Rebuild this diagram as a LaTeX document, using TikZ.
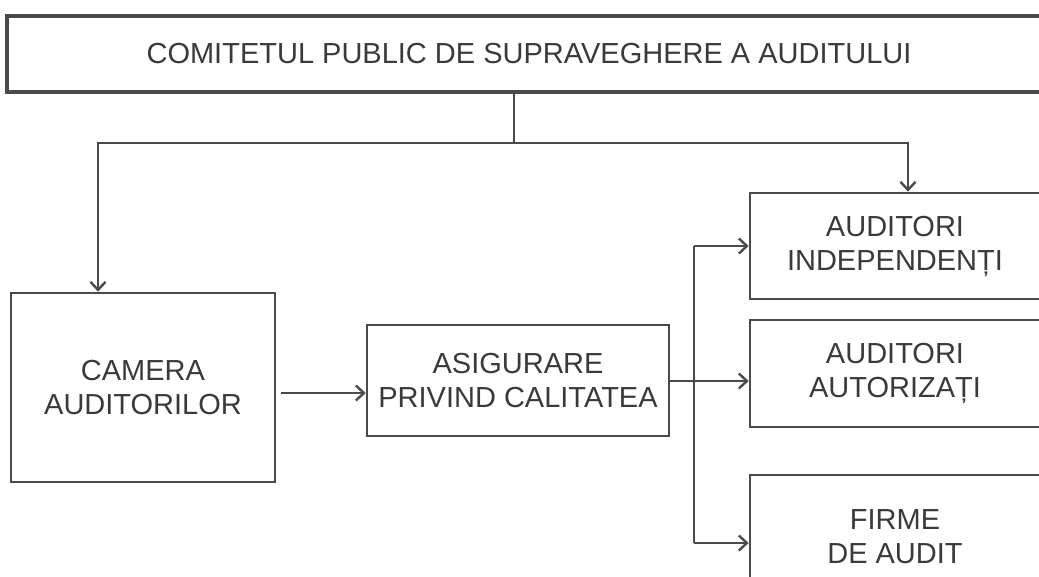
\documentclass[tikz,border=0pt]{standalone}
\usepackage{fontspec}
\setmainfont{Liberation Sans}
\usetikzlibrary{arrows.meta}
\definecolor{ln}{HTML}{4A4A4A}
\definecolor{tx}{HTML}{3A3A3A}
\begin{document}
\begin{tikzpicture}[x=1pt,y=-1pt,
  box/.style={draw=ln,line width=2.7pt,fill=white,rectangle,inner sep=0pt,align=center,
    text=tx,font=\fontsize{29}{34}\selectfont},
  arr/.style={draw=ln,line width=2.7pt,-{Straight Barb[length=8pt,width=15pt,line width=2.4pt]}},
  ln/.style={draw=ln,line width=2.7pt}]
\useasboundingbox (0,0) rectangle (1039,576);
\clip (0,0) rectangle (1039,576);
\fill[white] (0,0) rectangle (1039,576);
\node[box,line width=3.4pt,minimum width=1044pt,minimum height=76pt] (top) at (529,54) {COMITETUL PUBLIC DE SUPRAVEGHERE A AUDITULUI};
\node[box,minimum width=264pt,minimum height=189pt] (camera) at (143,387.5) {CAMERA\\AUDITORILOR};
\node[box,minimum width=302pt,minimum height=111pt] (asig) at (518,380.5) {ASIGURARE\\PRIVIND CALITATEA};
\node[box,minimum width=290pt,minimum height=106pt] (ind) at (895,246) {AUDITORI\\INDEPENDENȚI};
\node[box,minimum width=290pt,minimum height=107pt] (aut) at (895,373.5) {AUDITORI\\AUTORIZAȚI};
\node[box,minimum width=290pt,minimum height=124pt] (firme) at (895,537) {FIRME\\DE AUDIT};
\coordinate (j) at (514,143);
\coordinate (lc) at (98,143);
\coordinate (rc) at (908,143);
\coordinate (ca) at (0,393);
\coordinate (b) at (694,381);
\coordinate (b1) at (694,246);
\coordinate (b3) at (694,543);
\draw[ln] (top.south -| j) -- (j);
\draw[arr] (j) -- (lc) -- (lc |- camera.north);
\draw[arr] (j) -- (rc) -- (rc |- ind.north);
\draw[arr,shorten <=5pt] (camera.east |- ca) -- (asig.west |- ca);
\draw[ln] (b1) -- (b3);
\draw[arr] (asig.east |- b) -- (aut.west |- b);
\draw[arr] (b1) -- (ind.west |- b1);
\draw[arr] (b3) -- (firme.west |- b3);
\end{tikzpicture}
\end{document}
